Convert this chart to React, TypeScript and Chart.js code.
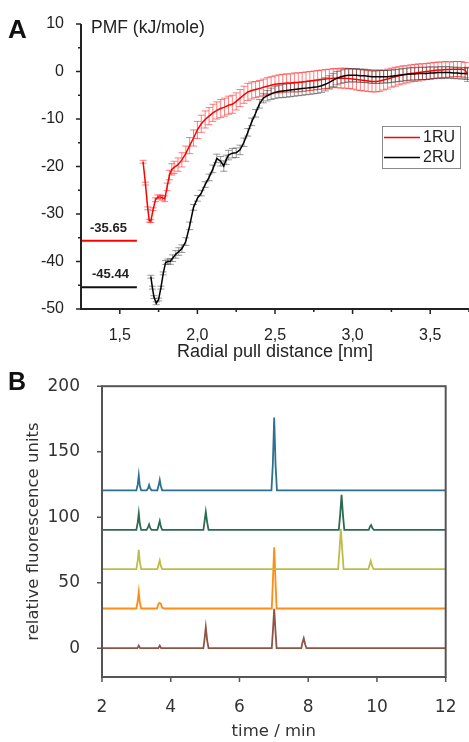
import React, { useEffect, useRef } from 'react';
import { Chart, registerables } from 'chart.js';

Chart.register(...registerables);

const FONT_A = '"Liberation Sans", Arial, Helvetica, sans-serif';
const FONT_B = '"DejaVu Sans", Verdana, sans-serif';

// ---------------- Panel A: PMF curves ----------------
const X_RU1 = [1.650, 1.665, 1.680, 1.690, 1.700, 1.715, 1.730, 1.745, 1.760, 1.775, 1.790, 1.805, 1.820, 1.835, 1.850,
  1.875, 1.900, 1.925, 1.950, 1.975, 2.000, 2.025, 2.050, 2.075, 2.100, 2.125, 2.150, 2.175, 2.200, 2.225, 2.250, 2.275,
  2.300, 2.325, 2.350, 2.375, 2.400, 2.425, 2.450, 2.475, 2.500, 2.525, 2.550, 2.575, 2.600, 2.625, 2.650, 2.675, 2.700,
  2.725, 2.750, 2.775, 2.800, 2.825, 2.850, 2.875, 2.900, 2.925, 2.950, 2.975, 3.000, 3.025, 3.050, 3.075, 3.100, 3.125,
  3.150, 3.175, 3.200, 3.225, 3.250, 3.275, 3.300, 3.325, 3.350, 3.375, 3.400, 3.425, 3.450, 3.475, 3.500, 3.525, 3.550,
  3.575, 3.600, 3.625, 3.650, 3.675, 3.700, 3.725, 3.740];
const Y_RU1 = [-19.0, -23.6, -28.8, -31.4, -31.5, -29.0, -27.0, -26.4, -26.4, -26.6, -26.8, -24.3, -21.8, -20.6, -20.2,
  -19.6, -18.6, -17.3, -15.6, -14.0, -12.3, -11.0, -10.1, -9.4, -8.7, -8.2, -7.8, -7.5, -7.1, -6.9, -6.3, -5.6,
  -4.9, -4.3, -4.0, -3.8, -3.6, -3.3, -3.1, -2.9, -2.7, -2.6, -2.5, -2.4, -2.4, -2.3, -2.3, -2.2, -2.1,
  -2.0, -1.9, -1.8, -1.7, -1.6, -1.5, -1.4, -1.4, -1.4, -1.4, -1.5, -1.6, -1.7, -1.8, -1.9, -2.0, -2.1,
  -2.1, -2.0, -1.8, -1.6, -1.3, -1.1, -0.9, -0.7, -0.6, -0.4, -0.3, -0.2, -0.1, 0.0, 0.1, 0.2, 0.3,
  0.3, 0.4, 0.4, 0.5, 0.5, 0.5, 0.3, -0.6];
const ERR_RU1 = [0.3, 0.3, 0.3, 0.3, 0.3, 0.3, 0.4, 0.4, 0.4, 0.5, 0.6, 0.8, 1.0, 1.2, 1.3,
  1.4, 1.5, 1.6, 1.7, 1.7, 1.8, 1.8, 1.8, 1.8, 1.8,
  1.8, 1.9, 1.9, 1.9, 1.9, 1.8, 1.8, 1.8, 1.8, 1.8, 1.7, 1.7, 1.7, 1.8, 1.8, 1.8,
  1.9, 1.9, 1.9, 1.9, 2.0, 2.0, 2.0, 2.0, 2.0, 2.0, 2.0, 2.0, 2.0, 2.0, 2.0, 2.0, 2.1, 2.1, 2.1, 2.1, 2.2, 2.2, 2.2, 2.2,
  2.2, 2.2, 2.2, 2.1, 2.1, 2.0, 2.0, 1.9,
  1.9, 1.8, 1.8, 1.8, 1.8, 1.7, 1.7, 1.7, 1.7, 1.7, 1.7, 1.7, 1.6, 1.6, 1.6, 1.6, 1.6, 1.5];

const X_RU2 = [1.700, 1.710, 1.720, 1.735, 1.750, 1.765, 1.780, 1.795, 1.810, 1.825, 1.840, 1.860, 1.880, 1.900,
  1.925, 1.950, 1.975, 2.000, 2.025, 2.050, 2.075, 2.100, 2.125, 2.150, 2.170, 2.185,
  2.200, 2.225, 2.250, 2.275, 2.300, 2.325, 2.350, 2.375, 2.400, 2.425, 2.450, 2.475, 2.500, 2.525, 2.550, 2.575,
  2.600, 2.625, 2.650, 2.675, 2.700, 2.725, 2.750, 2.775, 2.800, 2.825, 2.850, 2.875, 2.900, 2.925, 2.950, 2.975,
  3.000, 3.025, 3.050, 3.075, 3.100, 3.125, 3.150, 3.175, 3.200, 3.225, 3.250, 3.275, 3.300, 3.325, 3.350, 3.375,
  3.400, 3.425, 3.450, 3.475, 3.500, 3.525, 3.550, 3.575, 3.600, 3.625, 3.650, 3.675, 3.700, 3.725, 3.740];
const Y_RU2 = [-43.2, -45.5, -47.5, -48.8, -48.0, -45.5, -42.5, -40.2, -40.0, -40.0, -39.3, -38.5, -37.9, -37.3,
  -35.8, -32.5, -28.6, -26.7, -25.6, -23.8, -22.3, -20.5, -18.3, -18.9, -19.9, -18.6,
  -17.6, -17.2, -17.1, -16.5, -14.9, -12.8, -10.6, -8.8, -6.8, -5.6, -5.1, -4.7, -4.4, -4.2, -4.1, -4.0,
  -3.9, -3.8, -3.7, -3.6, -3.5, -3.4, -3.3, -3.2, -3.0, -2.7, -2.3, -1.8, -1.4, -1.1, -0.9, -0.8,
  -0.8, -0.8, -0.9, -0.9, -1.0, -1.1, -1.1, -1.1, -1.1, -1.1, -1.0, -0.9, -0.8, -0.7, -0.6, -0.5,
  -0.5, -0.4, -0.4, -0.4, -0.3, -0.3, -0.2, -0.2, -0.2, -0.2, -0.3, -0.3, -0.4, -0.4, -0.5];
const ERR_RU2 = [0.3, 0.3, 0.3, 0.3, 0.3, 0.3, 0.3, 0.4, 0.5, 0.6, 0.7, 0.8, 0.8, 0.8,
  0.8, 0.8, 0.6, 0.6, 0.6, 0.6, 0.7, 0.8, 0.9, 1.0, 1.1, 1.0,
  1.0, 1.0, 1.0, 1.0, 0.9, 0.8, 0.8, 0.8, 0.9, 1.0, 1.1, 1.2, 1.3, 1.3, 1.4, 1.4,
  1.4, 1.4, 1.4, 1.4, 1.4, 1.4, 1.4, 1.4, 1.4, 1.4, 1.4, 1.4, 1.4, 1.4, 1.4, 1.4,
  1.4, 1.4, 1.4, 1.4, 1.4, 1.4, 1.4, 1.4, 1.3, 1.3, 1.3, 1.3, 1.3, 1.3, 1.3, 1.3,
  1.3, 1.3, 1.3, 1.3, 1.3, 1.2, 1.2, 1.2, 1.2, 1.2, 1.2, 1.2, 1.2, 1.2, 1.2];

const SERIES_A_LABELS = ['1RU', '2RU'];
const MIN_RU1 = -35.65;
const MIN_RU2 = -45.44;
const MIN_LINE_X = [1.25, 1.61];
const A_X_TICKS = [1.5, 2.0, 2.5, 3.0, 3.5];
const A_X_MINOR = [1.75, 2.25, 2.75, 3.25, 3.75];
const A_Y_TICKS = [10, 0, -10, -20, -30, -40, -50];
const A_Y_MINOR = [5, -5, -15, -25, -35, -45];

// ---------------- Panel B: fluorescence traces ----------------
const TRACE_BLUE: [number, number][] = [[2, 120.5], [3.00, 120.5], [3.04, 125], [3.07, 132], [3.10, 124], [3.14, 120.5],
  [3.30, 120.5], [3.34, 122], [3.37, 124.5], [3.40, 122], [3.44, 120.5], [3.61, 120.5], [3.65, 124.5], [3.68, 128.5],
  [3.71, 124], [3.75, 120.5], [6.93, 120.5], [6.97, 140], [7.01, 176], [7.05, 140], [7.09, 120.5], [12, 120.5]];
const TRACE_GREEN: [number, number][] = [[2, 90.3], [3.00, 90.3], [3.04, 96], [3.07, 103], [3.10, 95], [3.14, 90.3],
  [3.30, 90.3], [3.34, 92.5], [3.37, 94.5], [3.40, 92], [3.44, 90.3], [3.61, 90.3], [3.65, 94], [3.68, 97], [3.71, 93],
  [3.75, 90.3], [4.95, 90.3], [4.98, 96], [5.02, 104], [5.06, 96], [5.10, 90.3], [8.89, 90.3], [8.93, 102],
  [8.97, 117], [9.01, 102], [9.05, 90.3], [9.76, 90.3], [9.80, 93], [9.83, 94], [9.87, 91.5], [9.91, 90.3], [12, 90.3]];
const TRACE_OLIVE: [number, number][] = [[2, 60.3], [3.00, 60.3], [3.04, 67], [3.07, 75], [3.10, 66], [3.14, 60.3],
  [3.61, 60.3], [3.65, 64], [3.68, 67], [3.71, 63], [3.75, 60.3], [8.87, 60.3], [8.91, 75], [8.95, 91], [8.99, 75],
  [9.03, 60.3], [9.75, 60.3], [9.79, 64], [9.82, 66.5], [9.86, 62.5], [9.90, 60.3], [12, 60.3]];
const TRACE_ORANGE: [number, number][] = [[2, 30.3], [3.00, 30.3], [3.04, 36], [3.07, 43], [3.10, 35], [3.14, 30.3],
  [3.60, 30.3], [3.64, 33.5], [3.67, 34.5], [3.71, 34], [3.75, 31], [3.80, 30.3], [6.94, 30.3], [6.97, 50], [7.01, 77],
  [7.05, 50], [7.08, 30.3], [12, 30.3]];
const TRACE_BROWN: [number, number][] = [[2, 0], [3.03, 0], [3.07, 2], [3.11, 0], [3.64, 0], [3.68, 2], [3.72, 0],
  [4.95, 0], [4.98, 6], [5.02, 16], [5.06, 6], [5.10, 0], [6.94, 0], [6.97, 12], [7.01, 30], [7.05, 12], [7.08, 0],
  [7.80, 0], [7.83, 4], [7.87, 7.5], [7.91, 3], [7.95, 0], [12, 0]];
const B_TRACES = [TRACE_BLUE, TRACE_GREEN, TRACE_OLIVE, TRACE_ORANGE, TRACE_BROWN];
const B_COLORS = ['#2c7191', '#2b6b51', '#bdbd48', '#ff8c14', '#8e5444'];
const B_X_TICKS = [2, 4, 6, 8, 10, 12];
const B_Y_TICKS = [0, 50, 100, 150, 200];

const pts = (xs: number[], ys: number[]) => xs.map((x, i) => ({ x, y: ys[i] }));

function drawAxisTicks(chart: any, xMajor: number[], xMinor: number[], yMajor: number[], yMinor: number[],
  majorLen: number, minorLen: number, color: string, width: number) {
  const { ctx, chartArea, scales } = chart;
  const { left, bottom } = chartArea;
  ctx.save();
  ctx.strokeStyle = color;
  ctx.lineWidth = width;
  ctx.beginPath();
  xMajor.forEach(v => { const p = scales.x.getPixelForValue(v); ctx.moveTo(p, bottom); ctx.lineTo(p, bottom + majorLen); });
  xMinor.forEach(v => { const p = scales.x.getPixelForValue(v); ctx.moveTo(p, bottom); ctx.lineTo(p, bottom + minorLen); });
  yMajor.forEach(v => { const p = scales.y.getPixelForValue(v); ctx.moveTo(left, p); ctx.lineTo(left - majorLen, p); });
  yMinor.forEach(v => { const p = scales.y.getPixelForValue(v); ctx.moveTo(left, p); ctx.lineTo(left - minorLen, p); });
  ctx.stroke();
  ctx.restore();
}

const errorBarsPlugin = {
  id: 'errorBars',
  beforeDatasetsDraw(chart: any) {
    const { ctx, chartArea, scales } = chart;
    const sets = [
      { x: X_RU1, y: Y_RU1, e: ERR_RU1, c: 'rgba(255,20,20,0.55)' },
      { x: X_RU2, y: Y_RU2, e: ERR_RU2, c: 'rgba(30,30,30,0.45)' },
    ];
    ctx.save();
    ctx.beginPath();
    ctx.rect(chartArea.left, chartArea.top, chartArea.right - chartArea.left, chartArea.bottom - chartArea.top);
    ctx.clip();
    ctx.lineWidth = 1;
    sets.forEach(s => {
      ctx.strokeStyle = s.c;
      s.x.forEach((xv, i) => {
        const px = scales.x.getPixelForValue(xv);
        const lo = scales.y.getPixelForValue(s.y[i] - s.e[i]);
        const hi = scales.y.getPixelForValue(s.y[i] + s.e[i]);
        ctx.beginPath();
        ctx.moveTo(px, lo); ctx.lineTo(px, hi);
        ctx.moveTo(px - 3.5, lo); ctx.lineTo(px + 3.5, lo);
        ctx.moveTo(px - 3.5, hi); ctx.lineTo(px + 3.5, hi);
        ctx.stroke();
      });
    });
    ctx.restore();
  },
};

const panelADecor = {
  id: 'panelADecor',
  afterDraw(chart: any) {
    const { ctx, chartArea, scales } = chart;
    const { left, top, right, bottom } = chartArea;
    ctx.save();
    ctx.strokeStyle = '#222';
    ctx.lineWidth = 2;
    ctx.beginPath();
    ctx.moveTo(left, top); ctx.lineTo(left, bottom); ctx.lineTo(right, bottom);
    ctx.stroke();
    ctx.restore();
    drawAxisTicks(chart, A_X_TICKS, A_X_MINOR, A_Y_TICKS, A_Y_MINOR, 5, 3, '#222', 1.5);
    ctx.save();
    ctx.fillStyle = '#111';
    ctx.textBaseline = 'alphabetic';
    ctx.font = `bold 26px ${FONT_A}`;
    ctx.fillText('A', 8, 38);
    ctx.font = `17.5px ${FONT_A}`;
    ctx.fillStyle = '#222';
    ctx.fillText('PMF (kJ/mole)', 91, 33);
    ctx.font = `bold 13px ${FONT_A}`;
    ctx.fillText(MIN_RU1.toFixed(2), left + 9, scales.y.getPixelForValue(MIN_RU1) - 8.5);
    ctx.fillText(MIN_RU2.toFixed(2), left + 11, scales.y.getPixelForValue(MIN_RU2) - 9.5);
    // legend
    ctx.strokeStyle = '#8a8a8a';
    ctx.lineWidth = 1;
    ctx.strokeRect(382.5, 126.5, 78, 42);
    ctx.lineWidth = 1.5;
    ctx.strokeStyle = '#ff0000';
    ctx.beginPath(); ctx.moveTo(384, 137.5); ctx.lineTo(420, 137.5); ctx.stroke();
    ctx.strokeStyle = '#000';
    ctx.beginPath(); ctx.moveTo(384, 157.5); ctx.lineTo(420, 157.5); ctx.stroke();
    ctx.font = `16px ${FONT_A}`;
    ctx.fillStyle = '#222';
    ctx.textBaseline = 'middle';
    ctx.fillText(SERIES_A_LABELS[0], 423, 138);
    ctx.fillText(SERIES_A_LABELS[1], 423, 158);
    ctx.restore();
  },
};

const panelBDecor = {
  id: 'panelBDecor',
  afterDraw(chart: any) {
    const { ctx, chartArea } = chart;
    const { left, top, right, bottom } = chartArea;
    ctx.save();
    ctx.strokeStyle = '#555';
    ctx.lineWidth = 2;
    ctx.strokeRect(left, top, right - left, bottom - top);
    ctx.restore();
    drawAxisTicks(chart, B_X_TICKS, [], B_Y_TICKS, [], 5, 3, '#555', 1.5);
    ctx.save();
    ctx.fillStyle = '#111';
    ctx.textBaseline = 'alphabetic';
    ctx.font = `bold 25px ${FONT_A}`;
    ctx.fillText('B', 8, 28);
    ctx.restore();
  },
};

export default function App() {
  const refA = useRef<HTMLCanvasElement>(null);
  const refB = useRef<HTMLCanvasElement>(null);

  useEffect(() => {
    document.body.style.margin = '0';
    const fmtA = (v: number) => v.toFixed(1).replace('.', ',');
    const chartA = new Chart(refA.current as HTMLCanvasElement, {
      type: 'line',
      data: {
        datasets: [
          { label: SERIES_A_LABELS[1], data: pts(X_RU2, Y_RU2), borderColor: '#000', borderWidth: 1.5, pointRadius: 0, tension: 0 },
          { label: SERIES_A_LABELS[0], data: pts(X_RU1, Y_RU1), borderColor: '#ff0000', borderWidth: 1.5, pointRadius: 0, tension: 0 },
          { label: 'min2', data: pts(MIN_LINE_X, [MIN_RU2, MIN_RU2]), borderColor: '#111', borderWidth: 2, pointRadius: 0 },
          { label: 'min1', data: pts(MIN_LINE_X, [MIN_RU1, MIN_RU1]), borderColor: '#ff0000', borderWidth: 2, pointRadius: 0 },
        ],
      },
      options: {
        responsive: false,
        animation: false,
        layout: { padding: { left: 0, right: 0, top: 24, bottom: 0 } },
        plugins: { legend: { display: false }, tooltip: { enabled: false } },
        scales: {
          x: {
            type: 'linear', min: 1.25, max: 3.75,
            grid: { display: false }, border: { display: false },
            ticks: { autoSkip: false, maxRotation: 0, padding: 9, color: '#222', font: { family: FONT_A, size: 16 },
              callback: (v: any) => fmtA(Number(v)) },
            afterBuildTicks: (s: any) => { s.ticks = A_X_TICKS.map(v => ({ value: v })); },
            afterFit: (s: any) => { s.height = 53; },
            title: { display: true, text: 'Radial pull distance [nm]', color: '#222', font: { family: FONT_A, size: 18 }, padding: { top: 0, bottom: -1 } },
          },
          y: {
            type: 'linear', min: -50, max: 10,
            grid: { display: false }, border: { display: false },
            ticks: { autoSkip: false, padding: 9, color: '#222', font: { family: FONT_A, size: 16 } },
            afterBuildTicks: (s: any) => { s.ticks = A_Y_TICKS.map(v => ({ value: v })); },
            afterFit: (s: any) => { s.width = 81; },
          },
        },
      },
      plugins: [errorBarsPlugin, panelADecor],
    } as any);

    const chartB = new Chart(refB.current as HTMLCanvasElement, {
      type: 'line',
      data: {
        datasets: B_TRACES.map((tr, i) => ({
          label: `trace ${i + 1}`,
          data: tr.map(([x, y]) => ({ x, y })),
          borderColor: B_COLORS[i], borderWidth: 1.8, pointRadius: 0, tension: 0,
        })),
      },
      options: {
        responsive: false,
        animation: false,
        layout: { padding: { left: 0, right: 17, top: 13, bottom: 0 } },
        plugins: { legend: { display: false }, tooltip: { enabled: false } },
        scales: {
          x: {
            type: 'linear', min: 2, max: 12,
            grid: { display: false }, border: { display: false },
            ticks: { autoSkip: false, maxRotation: 0, padding: 12.5, color: '#333', font: { family: FONT_B, size: 17 } },
            afterBuildTicks: (s: any) => { s.ticks = B_X_TICKS.map(v => ({ value: v })); },
            afterFit: (s: any) => { s.height = 65; },
            title: { display: true, text: 'time / min', color: '#333', font: { family: FONT_B, size: 16.5 }, padding: { top: 0, bottom: 0 } },
          },
          y: {
            type: 'linear', min: -22, max: 200,
            grid: { display: false }, border: { display: false },
            ticks: { autoSkip: false, padding: 14, color: '#333', font: { family: FONT_B, size: 17 } },
            afterBuildTicks: (s: any) => { s.ticks = B_Y_TICKS.map(v => ({ value: v })); },
            afterFit: (s: any) => { s.width = 102; },
            title: { display: true, text: 'relative fluorescence units', color: '#333', font: { family: FONT_B, size: 16.5 }, padding: { top: 24, bottom: 0 } },
          },
        },
      },
      plugins: [panelBDecor],
    } as any);

    return () => { chartA.destroy(); chartB.destroy(); };
  }, []);

  return (
    <div style={{ position: 'relative', width: 469, height: 742, background: '#fff', overflow: 'hidden' }}>
      <canvas ref={refA} width={469} height={362} style={{ position: 'absolute', left: 0, top: 0, width: 469, height: 362 }} />
      <canvas ref={refB} width={469} height={380} style={{ position: 'absolute', left: 0, top: 362, width: 469, height: 380 }} />
    </div>
  );
}
